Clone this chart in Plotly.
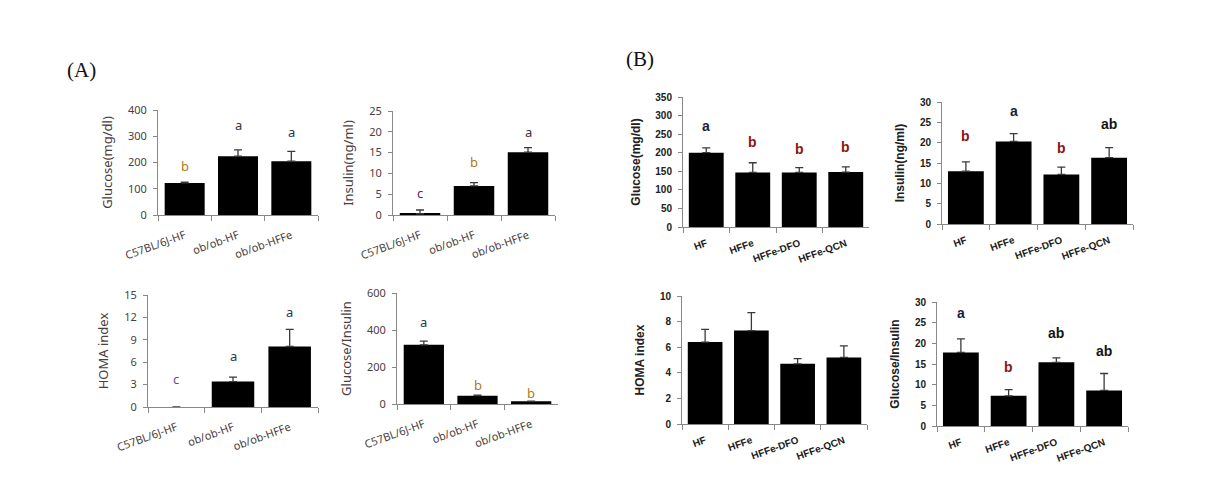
import plotly.graph_objects as go

# ---------------- data ----------------
groups_a = ["C57BL/6J-HF", "ob/ob-HF", "ob/ob-HFFe"]
groups_b = ["HF", "HFFe", "HFFe-DFO", "HFFe-QCN"]

a_glucose = [122, 224, 205]
a_glucose_err = [3, 24, 37]
a_glucose_letters = ["b", "a", "a"]
a_glucose_letter_y = [187, 343, 316]

a_insulin = [0.3, 7.0, 15.1]
a_insulin_err = [0.9, 0.8, 1.1]
a_insulin_letters = ["c", "b", "a"]
a_insulin_letter_y = [5.3, 12.7, 19.9]

a_homa = [0, 3.4, 8.1]
a_homa_err = [None, 0.6, 2.3]
a_homa_letters = ["c", "a", "a"]
a_homa_letter_y = [3.7, 6.8, 12.7]

a_gi = [320, 45, 15]
a_gi_err = [20, 3, 1]
a_gi_letters = ["a", "b", "b"]
a_gi_letter_y = [442, 104, 61]

b_glucose = [200, 147, 147, 148]
b_glucose_err = [13, 26, 13, 14]
b_glucose_letters = ["a", "b", "b", "b"]
b_glucose_letter_y = [271, 228, 209, 215]

b_insulin = [13.0, 20.3, 12.2, 16.3]
b_insulin_err = [2.3, 1.9, 1.8, 2.5]
b_insulin_letters = ["b", "a", "b", "ab"]
b_insulin_letter_y = [21.6, 27.7, 18.7, 24.5]

b_homa = [6.4, 7.3, 4.7, 5.2]
b_homa_err = [1.0, 1.4, 0.4, 0.9]

b_gi = [17.8, 7.3, 15.4, 8.6]
b_gi_err = [3.3, 1.5, 1.1, 4.1]
b_gi_letters = ["a", "b", "ab", "ab"]
b_gi_letter_y = [27.4, 14.3, 22.6, 18.2]

W, H = 1213, 490

fig = go.Figure()
annotations = []

letter_colors_a = {"a": "#33333f", "b": "#b07a12", "c": "#6a2266"}
letter_colors_b = {"a": "#1c1c3c", "b": "#8c1414", "ab": "#141414"}


def add_panel(idx, cats, vals, errs, box, yrange, dtick, ytitle, bold,
              letters=None, letter_y=None, letter_colors=None):
    x0, x1, ytop, ybot = box
    xa = "x" if idx == 1 else f"x{idx}"
    ya = "y" if idx == 1 else f"y{idx}"
    fam = "Liberation Sans" if bold else "Noto Sans"
    weight = "bold" if bold else "normal"
    tcol = "#202020" if bold else "#4a4040"
    fsize = 10 if bold else 11
    fig.add_trace(go.Bar(
        x=cats, y=vals, xaxis=xa, yaxis=ya,
        marker=dict(color="black", line=dict(width=0)),
        error_y=dict(type="data", symmetric=False, array=errs,
                     arrayminus=[0] * len(errs), color="#3a3a3a",
                     thickness=1.3, width=4),
        showlegend=False, hoverinfo="skip"))
    xkey = "xaxis" if idx == 1 else f"xaxis{idx}"
    ykey = "yaxis" if idx == 1 else f"yaxis{idx}"
    fig.layout[xkey] = dict(
        domain=[x0 / W, x1 / W], anchor=ya, type="category",
        automargin=False,
        showline=True, linecolor="#888888", linewidth=1,
        ticks="outside", tickson="boundaries", ticklen=5, tickcolor="#888888",
        ticklabelstandoff=9 if not bold else 6,
        tickangle=-20, showgrid=False, zeroline=False,
        tickfont=dict(family=fam, size=fsize, color=tcol, weight=weight))
    fig.layout[ykey] = dict(
        domain=[1 - ybot / H, 1 - ytop / H], anchor=xa,
        automargin=False,
        range=list(yrange), dtick=dtick, tick0=0,
        showline=True, linecolor="#888888", linewidth=1,
        ticks="outside", ticklen=4, tickcolor="#888888",
        ticklabelstandoff=4,
        showgrid=False, zeroline=False,
        tickfont=dict(family=fam, size=fsize, color=tcol, weight=weight),
        title=dict(text=ytitle, standoff=12,
                   font=dict(family=fam, size=13 if not bold else 12,
                             color=tcol, weight=weight)))
    if letters:
        for c, t, yy in zip(cats, letters, letter_y):
            annotations.append(dict(
                x=c, y=yy, xref=xa, yref=ya, text=t, showarrow=False,
                font=dict(family=fam, size=13 if not bold else 14,
                          color=letter_colors.get(t, "#222222"),
                          weight=weight)))


add_panel(1, groups_a, a_glucose, a_glucose_err, (158, 318, 110, 215),
          (0, 400), 100, "Glucose(mg/dl)", False,
          a_glucose_letters, a_glucose_letter_y, letter_colors_a)
add_panel(2, groups_a, a_insulin, a_insulin_err, (393, 555, 111, 215),
          (0, 25), 5, "Insulin(ng/ml)", False,
          a_insulin_letters, a_insulin_letter_y, letter_colors_a)
add_panel(3, groups_a, a_homa, a_homa_err, (148, 318, 295, 407),
          (0, 15), 3, "HOMA index", False,
          a_homa_letters, a_homa_letter_y,
          {"a": "#33333f", "c": "#55557a"})
add_panel(4, groups_a, a_gi, a_gi_err, (397, 558, 293, 404),
          (0, 600), 200, "Glucose/Insulin", False,
          a_gi_letters, a_gi_letter_y, letter_colors_a)
add_panel(5, groups_b, b_glucose, b_glucose_err, (683, 869, 97, 227),
          (0, 350), 50, "Glucose(mg/dl)", True,
          b_glucose_letters, b_glucose_letter_y, letter_colors_b)
add_panel(6, groups_b, b_insulin, b_insulin_err, (942, 1133, 102, 224),
          (0, 30), 5, "Insulin(ng/ml)", True,
          b_insulin_letters, b_insulin_letter_y, letter_colors_b)
add_panel(7, groups_b, b_homa, b_homa_err, (682, 867, 296, 424),
          (0, 10), 2, "HOMA index", True)
add_panel(8, groups_b, b_gi, b_gi_err, (937, 1128, 302, 426),
          (0, 30), 5, "Glucose/Insulin", True,
          b_gi_letters, b_gi_letter_y, letter_colors_b)

annotations.append(dict(x=81 / W, y=1 - 70 / H, xref="paper", yref="paper",
                        xanchor="center", yanchor="middle",
                        text="(A)", showarrow=False,
                        font=dict(family="Liberation Serif", size=21, color="#111111")))
annotations.append(dict(x=640 / W, y=1 - 59 / H, xref="paper", yref="paper",
                        xanchor="center", yanchor="middle",
                        text="(B)", showarrow=False,
                        font=dict(family="Liberation Serif", size=21, color="#111111")))

fig.update_layout(
    width=W, height=H,
    margin=dict(l=0, r=0, t=0, b=0),
    paper_bgcolor="white", plot_bgcolor="white",
    bargap=0.25,
    annotations=annotations,
)

fig.write_html("out.html",
               config={"displayModeBar": False},
               post_script="document.body.style.margin='0';document.body.style.padding='0';")
